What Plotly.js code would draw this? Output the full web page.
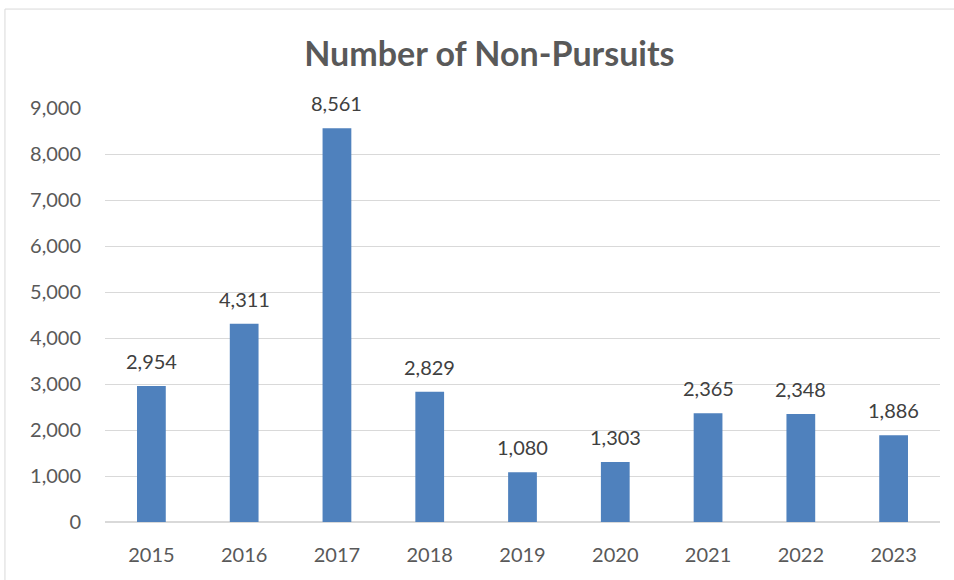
<!DOCTYPE html>
<html>
<head>
<meta charset="utf-8">
<script src="https://cdn.plot.ly/plotly-3.0.1.min.js"></script>
<style>html,body{margin:0;padding:0;background:#fff;}</style>
</head>
<body>
<div id="chart" style="width:954px;height:580px;"></div>
<script>
const years = ["2015","2016","2017","2018","2019","2020","2021","2022","2023"];
const nonPursuits = [2954, 4311, 8561, 2829, 1080, 1303, 2365, 2348, 1886];
const yTicks = [0,1000,2000,3000,4000,5000,6000,7000,8000,9000];
const chartTitle = "Number of Non-Pursuits";

const fontFam = "Lato, 'Open Sans', sans-serif";

const trace = {
  type: "bar",
  x: years,
  y: nonPursuits,
  marker: {color: "#4f81bd"},
  hoverinfo: "x+y"
};

const annotations = years.map((yr, i) => ({
  x: i, y: nonPursuits[i], xref: "x", yref: "y",
  text: nonPursuits[i].toLocaleString("en-US"),
  showarrow: false, yanchor: "bottom", yshift: 11,
  font: {family: fontFam, size: 20, color: "#404040"}
}));

const layout = {
  width: 954, height: 580,
  margin: {l: 105, r: 14, t: 108, b: 58},
  paper_bgcolor: "#ffffff", plot_bgcolor: "#ffffff",
  title: {text: "<b>" + chartTitle + "</b>", x: 0.513, xanchor: "center", y: 0.907, yanchor: "middle",
          font: {family: fontFam, size: 34, color: "#595959"}},
  bargap: 0.69,
  showlegend: false,
  xaxis: {
    type: "category", categoryorder: "array", categoryarray: years,
    range: [-0.5, years.length - 0.5], autorange: false,
    showgrid: false, zeroline: false, showline: false,
    ticks: "", ticklabelstandoff: 19,
    tickfont: {family: fontFam, size: 20, color: "#595959"}
  },
  yaxis: {
    range: [0, 9000], autorange: false, tickvals: yTicks, tickformat: ",d",
    showgrid: true, gridcolor: "#d9d9d9", gridwidth: 1.3,
    zeroline: true, zerolinecolor: "#d9d9d9", zerolinewidth: 1.5,
    showline: false, ticks: "", ticklabelstandoff: 23,
    tickfont: {family: fontFam, size: 20, color: "#595959"}
  },
  annotations: annotations,
  shapes: [{
    type: "rect", xref: "paper", yref: "paper",
    x0: -0.1198, x1: 1.5, y0: -1, y1: 1.239,
    line: {color: "#d9d9d9", width: 1}, fillcolor: "rgba(0,0,0,0)", layer: "below"
  }]
};

Plotly.newPlot("chart", [trace], layout, {displayModeBar: false, responsive: false});
</script>
</body>
</html>
